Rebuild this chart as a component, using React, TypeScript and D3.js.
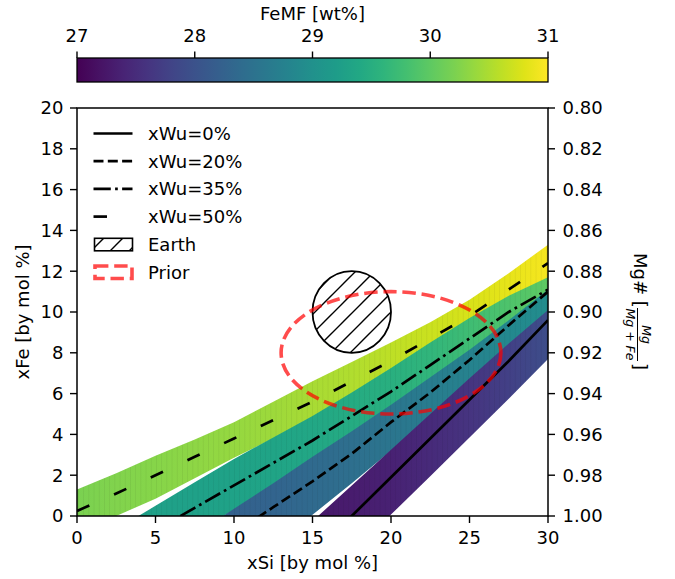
import React from 'react';
import * as d3 from 'd3';

// ---------- data ----------
// xWu = 50% band
const x50 = [0, 2.5, 5, 7.5, 10, 12.5, 15, 17.5, 20, 22.5, 25, 27.5, 30];
const upper50 = [1.3, 2.1, 2.95, 3.75, 4.6, 5.6, 6.6, 7.55, 8.5, 9.5, 10.6, 11.9, 13.3];
const lower50 = [-0.9, 0, 0.85, 1.85, 2.85, 3.8, 4.7, 5.7, 6.7, 7.7, 8.8, 10.1, 11.4];
const femf50 = [30.2, 30.24, 30.28, 30.32, 30.37, 30.42, 30.47, 30.53, 30.6, 30.68, 30.76, 30.85, 30.94];
const line50 = [0.25, 1.1, 2.0, 2.9, 3.8, 4.7, 5.6, 6.6, 7.6, 8.7, 9.8, 11.1, 12.4];

// xWu = 35% band
const x35 = [2.5, 5, 7.5, 10, 12.5, 15, 17.5, 20, 22.5, 25, 27.5, 30];
const upper35 = [-0.65, 0.5, 1.65, 2.8, 3.85, 4.9, 6.05, 7.25, 8.5, 9.7, 10.8, 11.7];
const lower35 = [-3.0, -1.9, -0.8, 0.3, 1.4, 2.5, 3.7, 4.9, 6.2, 7.5, 8.8, 9.9];
const femf35 = [29.25, 29.25, 29.27, 29.3, 29.34, 29.39, 29.45, 29.52, 29.62, 29.75, 29.88, 30.0];
const xLine35 = [5, 7.5, 10, 12.5, 15, 17.5, 20, 22.5, 25, 27.5, 30];
const line35 = [-0.7, 0.4, 1.5, 2.6, 3.7, 4.9, 6.1, 7.4, 8.7, 10.0, 11.1];

// xWu = 20% band
const x20 = [7.5, 10, 12.5, 15, 17.5, 20, 22.5, 25, 27.5, 30];
const upper20 = [-0.9, 0.35, 1.6, 2.9, 4.15, 5.45, 6.8, 8.15, 9.6, 11.1];
const lower20 = [-4.7, -3.1, -1.5, 0.06, 1.6, 3.2, 4.8, 6.4, 8.0, 9.5];
const femf20 = [28.22, 28.22, 28.28, 28.36, 28.45, 28.55, 28.66, 28.77, 28.86, 28.95];
const xLine20 = [10, 12.5, 15, 17.5, 20, 22.5, 25, 27.5, 30];
const line20 = [-0.85, 0.43, 1.7, 3.05, 4.6, 6.05, 7.65, 9.35, 11.0];

// xWu = 0% band
const x0 = [12.5, 15, 17.5, 20, 22.5, 25, 27.5, 30];
const upper0 = [-2.0, -0.25, 1.5, 3.25, 5.0, 6.75, 8.45, 10.1];
const lower0 = [-5.6, -3.7, -1.8, 0.07, 1.95, 3.85, 5.75, 7.7];
const femf0 = [27.25, 27.25, 27.3, 27.37, 27.47, 27.6, 27.76, 27.95];
const xLine0 = [15, 17.5, 20, 22.5, 25, 27.5, 30];
const line0 = [-1.9, 0, 1.9, 3.8, 5.7, 7.6, 9.6];

// Earth and Prior ellipses: [cx, cy, width, height]
const earth = [17.5, 10, 5, 4];
const prior = [20, 8, 14, 6];

const xTicks = [0, 5, 10, 15, 20, 25, 30];
const yTicks = [0, 2, 4, 6, 8, 10, 12, 14, 16, 18, 20];
const mgTicks = [0.8, 0.82, 0.84, 0.86, 0.88, 0.9, 0.92, 0.94, 0.96, 0.98, 1.0];
const cbTicks = [27, 28, 29, 30, 31];
const legendLabels = ['xWu=0%', 'xWu=20%', 'xWu=35%', 'xWu=50%', 'Earth', 'Prior'];

// ---------- layout ----------
const W = 675, H = 579;
const L = 77, R = 548, T = 108, B = 516;
const FONT = "'DejaVu Sans', sans-serif";
const FS = 18;

const x = d3.scaleLinear().domain([0, 30]).range([L, R]);
const y = d3.scaleLinear().domain([0, 20]).range([B, T]);
const yMg = d3.scaleLinear().domain([0.8, 1.0]).range([T, B]);
const cb = d3.scaleLinear().domain([27, 31]).range([L, R]);
const femfColor = (v: number) => d3.interpolateViridis((v - 27) / 4);

const LW = 2.7;
const styles: Record<string, string | undefined> = {
  solid: undefined,
  dashed: `${3.7 * LW},${1.6 * LW}`,
  dashdot: `${6.4 * LW},${1.6 * LW},${1 * LW},${1.6 * LW}`,
  long: `${5 * LW},${10 * LW}`,
};

function bandPath(xs: number[], lo: number[], hi: number[]) {
  const idx = xs.map((_, i) => i);
  return d3
    .area<number>()
    .x((i) => x(xs[i]))
    .y0((i) => y(lo[i]))
    .y1((i) => y(hi[i]))(idx) as string;
}
function linePath(xs: number[], ys: number[]) {
  const idx = xs.map((_, i) => i);
  return d3
    .line<number>()
    .x((i) => x(xs[i]))
    .y((i) => y(ys[i]))(idx) as string;
}

function Gradient({ id, xs, vals }: { id: string; xs: number[]; vals: number[] }) {
  const x1 = x(xs[0]);
  const x2 = x(xs[xs.length - 1]);
  return (
    <linearGradient id={id} gradientUnits="userSpaceOnUse" x1={x1} x2={x2} y1={0} y2={0}>
      {xs.map((xv, i) => (
        <stop key={i} offset={(x(xv) - x1) / (x2 - x1)} stopColor={femfColor(vals[i])} />
      ))}
    </linearGradient>
  );
}

export default function App() {
  const bands = [
    { id: 'g50', xs: x50, lo: lower50, hi: upper50, c: femf50 },
    { id: 'g35', xs: x35, lo: lower35, hi: upper35, c: femf35 },
    { id: 'g20', xs: x20, lo: lower20, hi: upper20, c: femf20 },
    { id: 'g0', xs: x0, lo: lower0, hi: upper0, c: femf0 },
  ];
  const lines = [
    { xs: xLine0, ys: line0, st: 'solid' },
    { xs: xLine20, ys: line20, st: 'dashed' },
    { xs: xLine35, ys: line35, st: 'dashdot' },
    { xs: x50, ys: line50, st: 'long' },
  ];
  const cbStops = d3.range(0, 1.0001, 0.05);
  const hs = 19; // hatch spacing
  const rowY = (i: number) => 133.5 + i * 27.7;

  return (
    <svg width={W} height={H} style={{ position: 'absolute', left: 0, top: 0, background: '#fff' }} fontFamily={FONT}>
      <defs>
        <clipPath id="plot">
          <rect x={L} y={T} width={R - L} height={B - T} />
        </clipPath>
        {bands.map((b) => (
          <Gradient key={b.id} id={b.id} xs={b.xs} vals={b.c} />
        ))}
        <linearGradient id="cbar" x1="0" x2="1" y1="0" y2="0">
          {cbStops.map((t, i) => (
            <stop key={i} offset={t} stopColor={d3.interpolateViridis(t)} />
          ))}
        </linearGradient>
        <pattern id="hatch" patternUnits="userSpaceOnUse" width={hs} height={hs}>
          <path
            d={`M0,${hs} L${hs},0 M${-hs / 2},${hs / 2} L${hs / 2},${-hs / 2} M${hs / 2},${hs * 1.5} L${hs * 1.5},${hs / 2}`}
            stroke="#000"
            strokeWidth={1.4}
          />
        </pattern>
        <pattern id="strips" patternUnits="userSpaceOnUse" width={5.2} height={10}>
          <rect x={0} y={0} width={0.8} height={10} fill="#000" fillOpacity={0.06} />
        </pattern>
      </defs>

      {/* bands and lines */}
      <g clipPath="url(#plot)">
        {bands.map((b) => (
          <g key={b.id}>
            <path d={bandPath(b.xs, b.lo, b.hi)} fill={`url(#${b.id})`} />
            <path d={bandPath(b.xs, b.lo, b.hi)} fill="url(#strips)" />
          </g>
        ))}
        {lines.map((l, i) => (
          <path
            key={i}
            d={linePath(l.xs, l.ys)}
            fill="none"
            stroke="#000"
            strokeWidth={LW}
            strokeDasharray={styles[l.st]}
          />
        ))}
        <ellipse
          cx={x(earth[0])}
          cy={y(earth[1])}
          rx={x(earth[2] / 2) - x(0)}
          ry={y(0) - y(earth[3] / 2)}
          fill="url(#hatch)"
          stroke="#000"
          strokeWidth={1.8}
        />
        <ellipse
          cx={x(prior[0])}
          cy={y(prior[1])}
          rx={x(prior[2] / 2) - x(0)}
          ry={y(0) - y(prior[3] / 2)}
          fill="none"
          stroke="red"
          strokeOpacity={0.7}
          strokeWidth={3.6}
          strokeDasharray="13.4,5.8"
        />
      </g>

      {/* spines */}
      <rect x={L} y={T} width={R - L} height={B - T} fill="none" stroke="#000" strokeWidth={1.5} />

      {/* x axis */}
      {xTicks.map((t) => (
        <g key={t}>
          <line x1={x(t)} x2={x(t)} y1={B} y2={B + 7} stroke="#000" strokeWidth={1.4} />
          <text x={x(t)} y={543.5} textAnchor="middle" fontSize={FS}>
            {t}
          </text>
        </g>
      ))}
      <text x={(L + R) / 2} y={569} textAnchor="middle" fontSize={FS}>
        xSi [by mol %]
      </text>

      {/* left y axis */}
      {yTicks.map((t) => (
        <g key={t}>
          <line x1={L - 7} x2={L} y1={y(t)} y2={y(t)} stroke="#000" strokeWidth={1.4} />
          <text x={63.5} y={y(t)} dy="0.36em" textAnchor="end" fontSize={FS}>
            {t}
          </text>
        </g>
      ))}
      <text transform={`translate(29,${(T + B) / 2}) rotate(-90)`} textAnchor="middle" fontSize={FS}>
        xFe [by mol %]
      </text>

      {/* right y axis */}
      {mgTicks.map((t) => (
        <g key={t}>
          <line x1={R} x2={R + 7} y1={yMg(t)} y2={yMg(t)} stroke="#000" strokeWidth={1.4} />
          <text x={562.5} y={yMg(t)} dy="0.36em" textAnchor="start" fontSize={FS}>
            {t.toFixed(2)}
          </text>
        </g>
      ))}
      <g transform={`translate(636,311) rotate(90)`}>
        <text x={-58} y={2} fontSize={FS}>
          Mg# [
        </text>
        <line x1={-3} x2={50} y1={-1.5} y2={-1.5} stroke="#000" strokeWidth={1} />
        <text x={23.5} y={-5.5} fontSize={12.5} fontStyle="italic" textAnchor="middle">
          Mg
        </text>
        <text x={23.5} y={10.5} fontSize={12.5} fontStyle="italic" textAnchor="middle">
          Mg + Fe
        </text>
        <text x={52} y={2} fontSize={FS}>
          ]
        </text>
      </g>

      {/* colorbar */}
      <rect x={L} y={58} width={R - L} height={24} fill="url(#cbar)" stroke="#000" strokeWidth={1.3} />
      {cbTicks.map((t) => (
        <g key={t}>
          <line x1={cb(t)} x2={cb(t)} y1={51.5} y2={58} stroke="#000" strokeWidth={1.4} />
          <text x={cb(t)} y={41.5} textAnchor="middle" fontSize={FS}>
            {t}
          </text>
        </g>
      ))}
      <text x={(L + R) / 2} y={19.5} textAnchor="middle" fontSize={FS}>
        FeMF [wt%]
      </text>

      {/* legend */}
      {lines.map((l, i) => (
        <line
          key={i}
          x1={93.5}
          x2={132.5}
          y1={rowY(i)}
          y2={rowY(i)}
          stroke="#000"
          strokeWidth={LW}
          strokeDasharray={styles[l.st]}
        />
      ))}
      <rect x={94.5} y={rowY(4) - 6} width={38} height={12.5} fill="url(#hatch)" stroke="#000" strokeWidth={1.6} />
      <rect
        x={95}
        y={rowY(5) - 6}
        width={37}
        height={12.5}
        fill="none"
        stroke="red"
        strokeOpacity={0.7}
        strokeWidth={3.6}
        strokeDasharray="13.4,5.8"
      />
      {legendLabels.map((s, i) => (
        <text key={s} x={148} y={rowY(i) + 6.5} fontSize={FS}>
          {s}
        </text>
      ))}
    </svg>
  );
}
